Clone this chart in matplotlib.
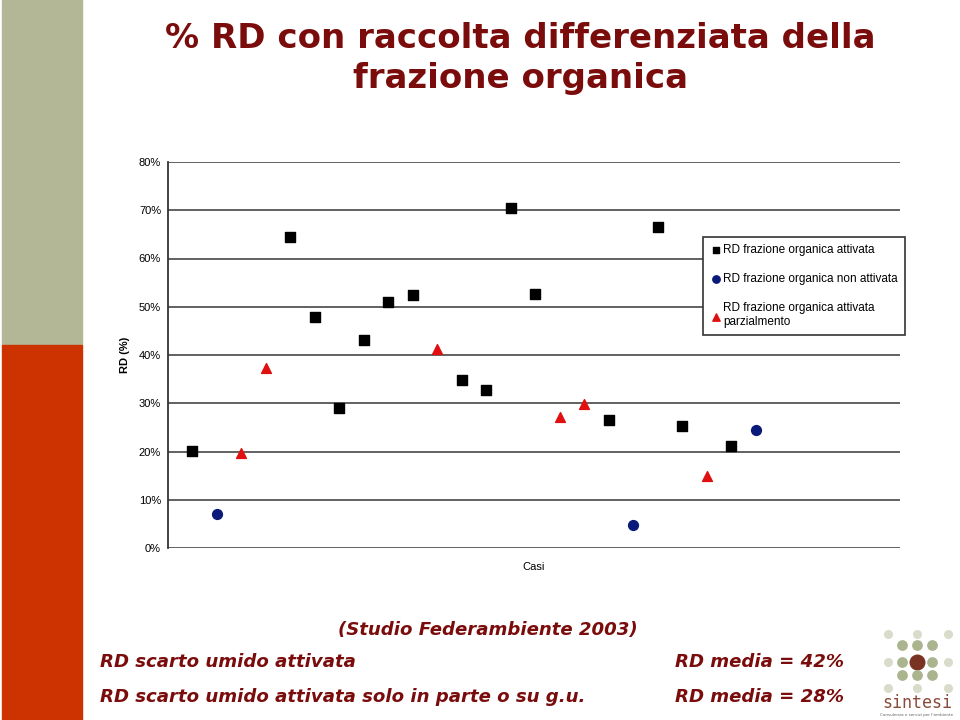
import matplotlib
matplotlib.use('Agg')
import matplotlib.pyplot as plt
from matplotlib.patches import Rectangle

# dati (casi e % RD)
casi_attivata = [1, 5, 6, 7, 8, 9, 10, 12, 13, 14, 15, 18, 20, 21, 23]
rd_attivata = [20.1, 64.5, 47.9, 29.0, 43.1, 51.0, 52.4, 34.8, 32.7, 70.5, 52.6, 26.5, 66.5, 25.3, 21.1]

casi_non_attivata = [2, 19, 24]
rd_non_attivata = [7.0, 4.8, 24.5]

casi_parziale = [3, 4, 11, 16, 17, 22]
rd_parziale = [19.7, 37.3, 41.2, 27.1, 29.8, 14.9]

y_ticks = [0, 10, 20, 30, 40, 50, 60, 70, 80]
y_labels = ['0%', '10%', '20%', '30%', '40%', '50%', '60%', '70%', '80%']

legend_labels = ['RD frazione organica attivata',
                 'RD frazione organica non attivata',
                 'RD frazione organica attivata\nparzialmento']

rosso_scuro = '#7a0c0c'

fig = plt.figure(figsize=(9.6, 7.2), dpi=100)

# striscia decorativa a sinistra
fig.patches.append(Rectangle((0.002, 1 - 345 / 720), 0.083, 345 / 720, transform=fig.transFigure,
                             color='#b4b795', zorder=0))
fig.patches.append(Rectangle((0.002, 0), 0.083, 1 - 345 / 720, transform=fig.transFigure,
                             color='#cc3300', zorder=0))

# titolo
fig.text(0.542, 0.947, '% RD con raccolta differenziata della', ha='center', va='center',
         fontsize=24.5, fontweight='bold', color=rosso_scuro, family='DejaVu Sans')
fig.text(0.542, 0.891, 'frazione organica', ha='center', va='center',
         fontsize=24.5, fontweight='bold', color=rosso_scuro, family='DejaVu Sans')

# grafico
ax = fig.add_axes([168 / 960, 1 - 548 / 720, (900 - 168) / 960, (548 - 162) / 720])
ax.scatter(casi_attivata, rd_attivata, marker='s', s=42, color='black', label=legend_labels[0], zorder=3)
ax.scatter(casi_non_attivata, rd_non_attivata, marker='o', s=50, color='#0a1a7a', label=legend_labels[1], zorder=3)
ax.scatter(casi_parziale, rd_parziale, marker='^', s=50, color='#e01010', label=legend_labels[2], zorder=3)

ax.set_xlim(0, 29.9)
ax.set_ylim(0, 80)
ax.set_yticks(y_ticks)
ax.set_yticklabels(y_labels, family='Liberation Sans', fontsize=8)
ax.set_xticks([])
ax.yaxis.grid(True, color='#555555', linewidth=1.3)
ax.set_axisbelow(True)
for s in ['top', 'right', 'bottom']:
    ax.spines[s].set_visible(False)
ax.spines['left'].set_color('#333333')
ax.spines['left'].set_linewidth(1.3)
ax.tick_params(axis='y', length=0, pad=5)
ax.set_ylabel('RD (%)', family='Liberation Sans', fontsize=8, fontweight='bold', labelpad=6)
ax.set_xlabel('Casi', family='Liberation Sans', fontsize=8, labelpad=10)

leg = ax.legend(loc='upper left', bbox_to_anchor=(703 / 960, 1 - 237 / 720), bbox_transform=fig.transFigure,
                prop={'family': 'Liberation Sans', 'size': 8.5}, frameon=True, fancybox=False,
                handletextpad=0.1, handlelength=1.0, labelspacing=1.45, borderpad=0.6,
                borderaxespad=0, markerscale=0.75, framealpha=1)
leg.get_frame().set_edgecolor('#333333')
leg.get_frame().set_linewidth(1.2)

# testo in basso
stile = dict(fontsize=13.1, fontweight='bold', style='italic', color=rosso_scuro, family='DejaVu Sans', va='center')
fig.text(0.508, 0.125, '(Studio Federambiente 2003)', ha='center', **stile)
fig.text(0.104, 0.080, 'RD scarto umido attivata', ha='left', **stile)
fig.text(0.703, 0.080, 'RD media = 42%', ha='left', **stile)
fig.text(0.104, 0.032, 'RD scarto umido attivata solo in parte o su g.u.', ha='left', **stile)
fig.text(0.703, 0.032, 'RD media = 28%', ha='left', **stile)

# logo sintesi
logo = fig.add_axes([870 / 960, 0, 90 / 960, 100 / 720])
logo.set_xlim(0, 90)
logo.set_ylim(0, 100)
logo.axis('off')
chiaro = '#d8dccb'
medio = '#aab48f'
logo.scatter([18, 47, 78], [86, 86, 86], s=30, color=chiaro)
logo.scatter([32, 47, 62], [75, 75, 75], s=45, color=medio)
logo.scatter([18, 78], [58, 58], s=30, color=chiaro)
logo.scatter([32, 62], [58, 58], s=45, color=medio)
logo.scatter([47], [58], s=110, color='#7a3322')
logo.scatter([32, 47, 62], [45, 45, 45], s=45, color=medio)
logo.scatter([18, 47, 78], [32, 32, 32], s=30, color=chiaro)
logo.text(47, 17, 'sintesi', ha='center', va='center', fontsize=12, color='#8a4a3a', family='DejaVu Sans Mono')
logo.text(47, 5, "Consulenza e servizi per l'ambiente", ha='center', va='center', fontsize=3, color='#666666')

fig.savefig('out.png', dpi=100, facecolor='white')
